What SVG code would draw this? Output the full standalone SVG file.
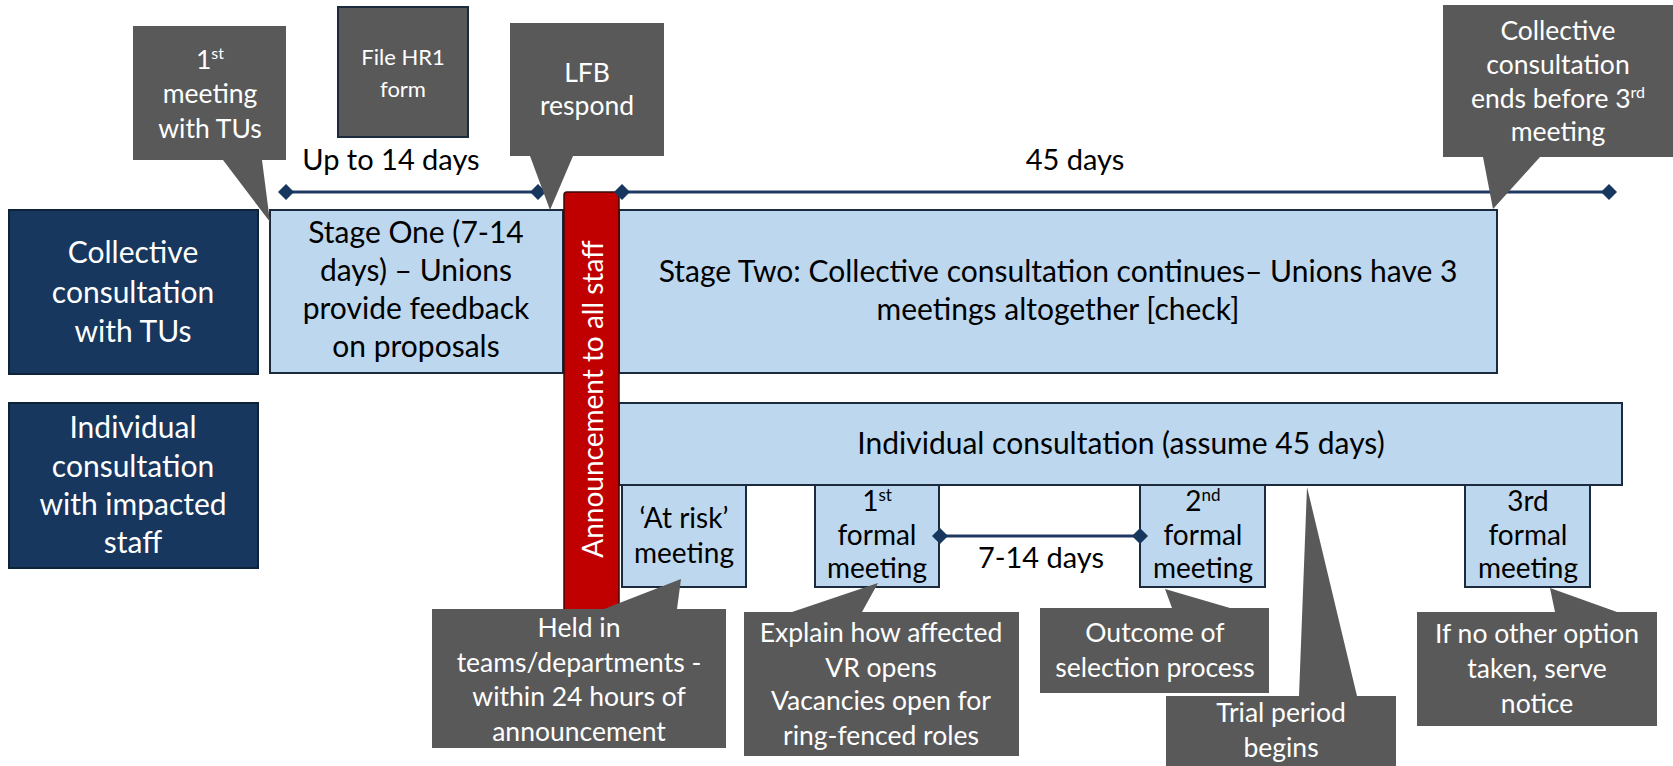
<svg xmlns="http://www.w3.org/2000/svg" width="1673" height="766" viewBox="0 0 1673 766">
<style>
.dk{fill:#17375E;stroke:#0E2238;stroke-width:2}
.lb{fill:#BDD7EE;stroke:#1B2A3C;stroke-width:2}
.co{fill:#595959}
.t{font-family:Lato,"Open Sans",sans-serif;text-anchor:middle}
.w{fill:#FFFFFF}
.b{fill:#000000}
.m{font-size:30px}
.s{font-size:28px}
.l{font-size:29px}
.c{font-size:26.5px}
.tl{stroke:#1F3864;stroke-width:3;fill:none}
.dm{fill:#17375E}
</style>
<defs>
<path id="dia" d="M0,-8 L8,0 L0,8 L-8,0 Z"/>
</defs>
<rect width="1673" height="766" fill="#FFFFFF"/>

<g id="row-collective">
<rect class="dk" x="9" y="210" width="249" height="164"/>
<text class="t w m"><tspan x="133" y="263">Collective</tspan><tspan x="133" y="303">consultation</tspan><tspan x="133" y="342">with TUs</tspan></text>
</g>
<g id="row-individual">
<rect class="dk" x="9" y="403" width="249" height="165"/>
<text class="t w m"><tspan x="133" y="438">Individual</tspan><tspan x="133" y="477">consultation</tspan><tspan x="133" y="515">with impacted</tspan><tspan x="133" y="553">staff</tspan></text>
</g>

<g id="stage-one">
<rect class="lb" x="270" y="210" width="293" height="163"/>
<text class="t b m"><tspan x="416" y="243">Stage One (7-14</tspan><tspan x="416" y="281">days) – Unions</tspan><tspan x="416" y="319">provide feedback</tspan><tspan x="416" y="357">on proposals</tspan></text>
</g>
<g id="stage-two">
<rect class="lb" x="619" y="210" width="878" height="163"/>
<text class="t b m"><tspan x="1058" y="282">Stage Two: Collective consultation continues– Unions have 3</tspan><tspan x="1058" y="320">meetings altogether [check]</tspan></text>
</g>
<g id="individual-consultation">
<rect class="lb" x="619" y="403" width="1003" height="82"/>
<text class="t b m" x="1121" y="454">Individual consultation (assume 45 days)</text>
</g>
<g id="at-risk">
<rect class="lb" x="622" y="485" width="124" height="102"/>
<text class="t b s"><tspan x="684" y="528">‘At risk’</tspan><tspan x="684" y="563">meeting</tspan></text>
</g>
<g id="formal-1">
<rect class="lb" x="815" y="485" width="124" height="102"/>
<text class="t b s"><tspan x="877" y="511">1<tspan font-size="17" dy="-10">st</tspan></tspan><tspan x="877" y="545">formal</tspan><tspan x="877" y="578">meeting</tspan></text>
</g>
<g id="formal-2">
<rect class="lb" x="1140" y="485" width="125" height="102"/>
<text class="t b s"><tspan x="1203" y="511">2<tspan font-size="17" dy="-10">nd</tspan></tspan><tspan x="1203" y="545">formal</tspan><tspan x="1203" y="578">meeting</tspan></text>
</g>
<g id="formal-3">
<rect class="lb" x="1465" y="485" width="125" height="102"/>
<text class="t b s"><tspan x="1528" y="511">3rd</tspan><tspan x="1528" y="545">formal</tspan><tspan x="1528" y="578">meeting</tspan></text>
</g>

<g id="announcement">
<rect x="564" y="192" width="55" height="420" rx="3" fill="#C00000" stroke="#3A0A0A" stroke-width="1.5"/>
<text class="t w" transform="translate(603,399) rotate(-90)" font-size="28">Announcement to all staff</text>
</g>

<g id="connectors">
<line class="tl" x1="286" y1="192" x2="538" y2="192"/>
<line class="tl" x1="622" y1="192" x2="1609" y2="192"/>
<line class="tl" x1="940" y1="536" x2="1140" y2="536"/>
<use href="#dia" class="dm" x="286" y="192"/>
<use href="#dia" class="dm" x="538" y="192"/>
<use href="#dia" class="dm" x="622" y="192"/>
<use href="#dia" class="dm" x="1609" y="192"/>
<use href="#dia" class="dm" x="940" y="536"/>
<use href="#dia" class="dm" x="1140" y="536"/>
</g>
<g id="labels">
<text class="t b l" x="391" y="170">Up to 14 days</text>
<text class="t b l" x="1075" y="170">45 days</text>
<text class="t b l" x="1041" y="568">7-14 days</text>
</g>

<g id="callout-first-meeting">
<path class="co" d="M133,26 H286 V160 H262 L270,222 L223,160 H133 Z"/>
<text class="t w c"><tspan x="210" y="69">1<tspan font-size="16" dy="-10">st</tspan></tspan><tspan x="210" y="103">meeting</tspan><tspan x="210" y="138">with TUs</tspan></text>
</g>
<g id="callout-hr1">
<rect class="co" x="338" y="7" width="130" height="130" stroke="#1B2A3C" stroke-width="2"/>
<text class="t w" font-size="22"><tspan x="403" y="65">File HR1</tspan><tspan x="403" y="97">form</tspan></text>
</g>
<g id="callout-lfb">
<path class="co" d="M510,23 H664 V156 H573 L550,210 L530,156 H510 Z"/>
<text class="t w c"><tspan x="587" y="82">LFB</tspan><tspan x="587" y="115">respond</tspan></text>
</g>
<g id="callout-collective-ends">
<path class="co" d="M1443,5 H1673 V157 H1540 L1493,209 L1483,157 H1443 Z"/>
<text class="t w c"><tspan x="1558" y="40">Collective</tspan><tspan x="1558" y="74">consultation</tspan><tspan x="1558" y="108">ends before 3<tspan font-size="16" dy="-10">rd</tspan></tspan><tspan x="1558" y="141">meeting</tspan></text>
</g>
<g id="callout-held">
<path class="co" d="M432,609 H604 L681,579 L677,609 H726 V748 H432 Z"/>
<text class="t w c"><tspan x="579" y="637">Held in</tspan><tspan x="579" y="672">teams/departments -</tspan><tspan x="579" y="706">within 24 hours of</tspan><tspan x="579" y="741">announcement</tspan></text>
</g>
<g id="callout-explain">
<path class="co" d="M744,612 H792 L878,583 L862,612 H1019 V756 H744 Z"/>
<text class="t w c"><tspan x="881" y="642">Explain how affected</tspan><tspan x="881" y="677">VR opens</tspan><tspan x="881" y="710">Vacancies open for</tspan><tspan x="881" y="745">ring-fenced roles</tspan></text>
</g>
<g id="callout-outcome">
<path class="co" d="M1040,608 H1172 L1165,589 L1230,608 H1269 V693 H1040 Z"/>
<text class="t w c"><tspan x="1155" y="642">Outcome of</tspan><tspan x="1155" y="677">selection process</tspan></text>
</g>
<g id="callout-trial">
<path class="co" d="M1166,696 H1299 L1307,487 L1357,696 H1396 V770 H1166 Z"/>
<text class="t w c"><tspan x="1281" y="722">Trial period</tspan><tspan x="1281" y="757">begins</tspan></text>
</g>
<g id="callout-notice">
<path class="co" d="M1417,612 H1555 L1550,588 L1617,612 H1657 V726 H1417 Z"/>
<text class="t w c"><tspan x="1537" y="643">If no other option</tspan><tspan x="1537" y="678">taken, serve</tspan><tspan x="1537" y="713">notice</tspan></text>
</g>
</svg>
